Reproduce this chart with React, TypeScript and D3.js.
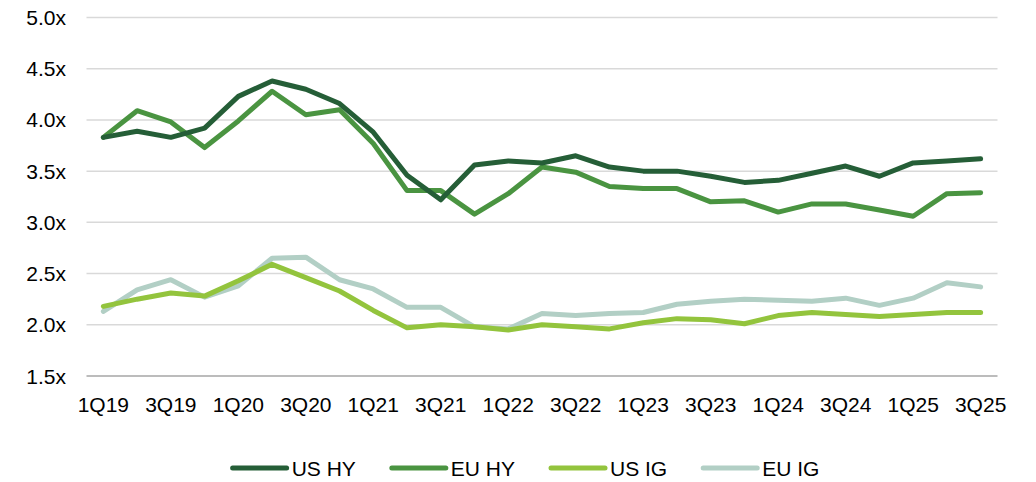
import React, { useEffect, useRef } from 'react';
import * as d3 from 'd3';

const quarters = [
  '1Q19', '2Q19', '3Q19', '4Q19', '1Q20', '2Q20', '3Q20', '4Q20', '1Q21', '2Q21', '3Q21', '4Q21',
  '1Q22', '2Q22', '3Q22', '4Q22', '1Q23', '2Q23', '3Q23', '4Q23', '1Q24', '2Q24', '3Q24', '4Q24',
  '1Q25', '2Q25', '3Q25',
];

const usHY = [3.83, 3.89, 3.83, 3.92, 4.23, 4.38, 4.30, 4.16, 3.88, 3.46, 3.22, 3.56, 3.60, 3.58, 3.65, 3.54, 3.50, 3.50, 3.45, 3.39, 3.41, 3.48, 3.55, 3.45, 3.58, 3.60, 3.62];
const euHY = [3.83, 4.09, 3.98, 3.73, 3.99, 4.28, 4.05, 4.10, 3.77, 3.31, 3.31, 3.08, 3.28, 3.54, 3.49, 3.35, 3.33, 3.33, 3.20, 3.21, 3.10, 3.18, 3.18, 3.12, 3.06, 3.28, 3.29];
const usIG = [2.18, 2.25, 2.31, 2.28, 2.43, 2.59, 2.46, 2.33, 2.14, 1.97, 2.00, 1.98, 1.95, 2.00, 1.98, 1.96, 2.02, 2.06, 2.05, 2.01, 2.09, 2.12, 2.10, 2.08, 2.10, 2.12, 2.12];
const euIG = [2.13, 2.34, 2.44, 2.27, 2.38, 2.65, 2.66, 2.44, 2.35, 2.17, 2.17, 1.98, 1.96, 2.11, 2.09, 2.11, 2.12, 2.20, 2.23, 2.25, 2.24, 2.23, 2.26, 2.19, 2.26, 2.41, 2.37];

const seriesNames = ['US HY', 'EU HY', 'US IG', 'EU IG'];
const seriesColors = ['#255e37', '#4a9441', '#93c43d', '#b2cfc5'];
const yTicks = [1.5, 2.0, 2.5, 3.0, 3.5, 4.0, 4.5, 5.0];

const FONT = '"Liberation Sans", Arial, sans-serif';
const FONT_SIZE = '21px';

const App: React.FC = () => {
  const ref = useRef<SVGSVGElement>(null);

  useEffect(() => {
    if (!ref.current) return;
    const svg = d3.select(ref.current);
    svg.selectAll('*').remove();

    const x = d3.scalePoint<string>().domain(quarters).range([86.5, 997.5]).padding(0.5);
    const y = d3.scaleLinear().domain([1.5, 5]).range([376, 17.5]);

    // gridlines
    svg.append('g')
      .selectAll('line')
      .data(yTicks)
      .enter().append('line')
      .attr('x1', 86.5)
      .attr('x2', 997.5)
      .attr('y1', d => y(d))
      .attr('y2', d => y(d))
      .attr('stroke', d => (d === 1.5 ? '#a6a6a6' : '#d9d9d9'))
      .attr('stroke-width', 1.5);

    // y labels
    svg.append('g')
      .selectAll('text')
      .data(yTicks)
      .enter().append('text')
      .attr('x', 66)
      .attr('y', d => y(d))
      .attr('dy', '0.36em')
      .attr('text-anchor', 'end')
      .style('font-family', FONT)
      .style('font-size', FONT_SIZE)
      .style('fill', '#000')
      .text(d => `${d.toFixed(1)}x`);

    // x labels, every other quarter
    svg.append('g')
      .selectAll('text')
      .data(quarters.filter((_, i) => i % 2 === 0))
      .enter().append('text')
      .attr('x', d => x(d) as number)
      .attr('y', 412)
      .attr('text-anchor', 'middle')
      .style('font-family', FONT)
      .style('font-size', FONT_SIZE)
      .style('fill', '#000')
      .text(d => d);

    const allSeries = [usHY, euHY, usIG, euIG];
    const line = d3.line<number>()
      .x((_, i) => x(quarters[i]) as number)
      .y(d => y(d));

    // US HY ends up on top
    [3, 2, 1, 0].forEach(k => {
      svg.append('path')
        .datum(allSeries[k])
        .attr('d', line)
        .attr('fill', 'none')
        .attr('stroke', seriesColors[k])
        .attr('stroke-width', 5)
        .attr('stroke-linejoin', 'round')
        .attr('stroke-linecap', 'round');
    });

    // legend, laid out from measured text widths and centred
    const legend = svg.append('g');
    const lineLen = 54;
    const textGap = 5;
    const itemGap = 36;
    const items = seriesNames.map((name, k) => {
      const g = legend.append('g');
      g.append('line')
        .attr('x1', 0)
        .attr('x2', lineLen)
        .attr('y1', 468)
        .attr('y2', 468)
        .attr('stroke', seriesColors[k])
        .attr('stroke-width', 5)
        .attr('stroke-linecap', 'round');
      const t = g.append('text')
        .attr('x', lineLen + textGap)
        .attr('y', 475.5)
        .style('font-family', FONT)
        .style('font-size', FONT_SIZE)
        .style('fill', '#000')
        .text(name);
      const w = (t.node() as SVGTextElement).getComputedTextLength();
      return { g, w: lineLen + textGap + w };
    });
    const total = d3.sum(items, d => d.w) + itemGap * (items.length - 1);
    let cx = 526 - total / 2;
    items.forEach(it => {
      it.g.attr('transform', `translate(${cx},0)`);
      cx += it.w + itemGap;
    });
  }, []);

  return (
    <svg
      ref={ref}
      width={1036}
      height={482}
      style={{ position: 'absolute', left: 0, top: 0, background: '#fff' }}
    />
  );
};

export default App;
